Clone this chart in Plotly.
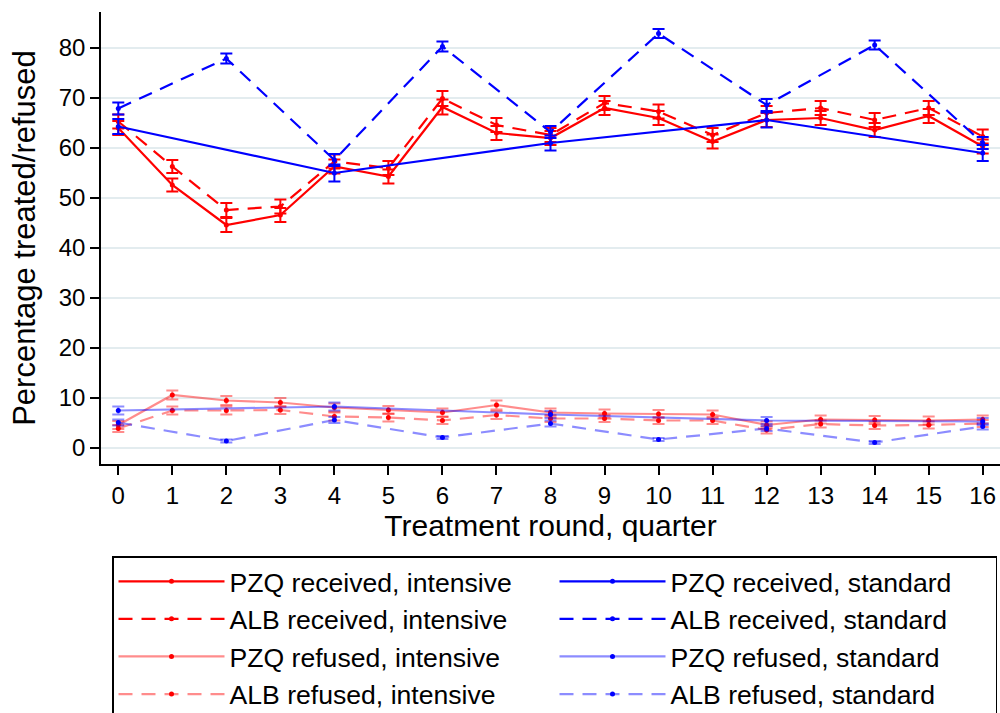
import plotly.graph_objects as go

rounds_all = list(range(17))
rounds_even = list(range(0, 17, 2))
rounds_annual = list(range(0, 17, 4))

pzq_rec_int = [64.0, 52.6, 44.6, 46.6, 56.3, 54.3, 68.2, 63.0, 62.0, 68.0, 66.0, 61.3, 65.6, 66.0, 63.6, 66.4, 60.3]
pzq_rec_int_err = [1.4, 1.3, 1.4, 1.4, 1.4, 1.4, 1.5, 1.4, 1.4, 1.4, 1.4, 1.4, 1.4, 1.4, 1.4, 1.4, 1.4]
alb_rec_int = [65.3, 56.3, 47.6, 48.3, 57.3, 56.0, 69.9, 64.6, 62.6, 69.0, 67.3, 62.6, 67.0, 68.0, 65.6, 68.0, 62.3]
alb_rec_int_err = [1.4, 1.3, 1.4, 1.4, 1.4, 1.4, 1.5, 1.4, 1.4, 1.4, 1.4, 1.4, 1.4, 1.4, 1.4, 1.4, 1.4]
pzq_rec_std = [64.3, 55.0, 61.0, 65.6, 59.0]
pzq_rec_std_err = [1.5, 1.7, 1.5, 1.5, 1.6]
alb_rec_std = [67.9, 77.9, 57.6, 80.3, 63.2, 82.9, 68.6, 80.6, 61.0]
alb_rec_std_err = [1.2, 1.0, 1.2, 1.0, 1.2, 0.9, 1.2, 0.9, 1.2]

pzq_ref_int = [4.6, 10.6, 9.5, 9.1, 8.1, 7.6, 7.1, 8.6, 7.1, 6.9, 6.8, 6.7, 4.6, 5.7, 5.6, 5.5, 5.7]
pzq_ref_int_err = [0.8, 0.9, 0.9, 0.9, 0.8, 0.8, 0.8, 0.9, 0.8, 0.8, 0.8, 0.8, 0.7, 0.8, 0.8, 0.8, 0.8]
alb_ref_int = [3.9, 7.5, 7.5, 7.6, 6.3, 6.1, 5.5, 6.6, 5.9, 5.9, 5.5, 5.5, 3.6, 4.8, 4.5, 4.6, 4.9]
alb_ref_int_err = [0.7, 0.8, 0.8, 0.8, 0.8, 0.8, 0.7, 0.8, 0.7, 0.7, 0.7, 0.7, 0.7, 0.7, 0.7, 0.7, 0.7]
pzq_ref_std = [7.5, 8.3, 6.7, 5.5, 5.3]
pzq_ref_std_err = [0.8, 0.8, 0.7, 0.7, 0.7]
alb_ref_std = [5.1, 1.4, 5.6, 2.1, 4.9, 1.7, 3.9, 1.1, 4.3]
alb_ref_std_err = [0.6, 0.3, 0.6, 0.3, 0.6, 0.3, 0.5, 0.3, 0.6]

y_ticks = [0, 10, 20, 30, 40, 50, 60, 70, 80]

RED = "#ff0000"
BLUE = "#0000ff"
LRED = "rgba(255,0,0,0.45)"
LBLUE = "rgba(0,0,255,0.45)"
DASH = "14px,9px"

series = [
    # name, x, y, err, line color, marker color, dash, legendrank
    ("PZQ refused, intensive", rounds_all, pzq_ref_int, pzq_ref_int_err, LRED, RED, "solid", 5),
    ("ALB refused, intensive", rounds_all, alb_ref_int, alb_ref_int_err, LRED, RED, DASH, 7),
    ("PZQ refused, standard", rounds_annual, pzq_ref_std, pzq_ref_std_err, LBLUE, BLUE, "solid", 6),
    ("ALB refused, standard", rounds_even, alb_ref_std, alb_ref_std_err, LBLUE, BLUE, DASH, 8),
    ("PZQ received, intensive", rounds_all, pzq_rec_int, pzq_rec_int_err, RED, RED, "solid", 1),
    ("ALB received, intensive", rounds_all, alb_rec_int, alb_rec_int_err, RED, RED, DASH, 3),
    ("PZQ received, standard", rounds_annual, pzq_rec_std, pzq_rec_std_err, BLUE, BLUE, "solid", 2),
    ("ALB received, standard", rounds_even, alb_rec_std, alb_rec_std_err, BLUE, BLUE, DASH, 4),
]

fig = go.Figure()
for name, xs, ys, es, lc, mc, dash, rank in series:
    fig.add_trace(go.Scatter(
        x=xs, y=ys, name=name, mode="lines+markers",
        line=dict(color=lc, width=2.2, dash=dash),
        marker=dict(color=mc, size=5),
        error_y=dict(type="data", array=es, visible=True, color=lc, thickness=2, width=6),
        legendrank=rank,
    ))

FONT = "Liberation Sans, Arial, sans-serif"
fig.update_layout(
    width=1000, height=713,
    margin=dict(l=101, r=0, t=12, b=249),
    plot_bgcolor="white", paper_bgcolor="white",
    font=dict(family=FONT, color="black", size=24),
    showlegend=True,
    legend=dict(
        orientation="h", xref="container", yref="container",
        x=0.112, y=1 - 556 / 713, xanchor="left", yanchor="top",
        bordercolor="black", borderwidth=1.5, bgcolor="white",
        font=dict(size=26.6, family=FONT), itemwidth=106,
        entrywidth=320, tracegroupgap=0, traceorder="normal",
    ),
)
fig.update_xaxes(
    range=[-0.32, 16.32], tickmode="array", tickvals=rounds_all,
    ticktext=[str(v) for v in rounds_all],
    showline=True, linecolor="black", linewidth=1.5,
    ticks="outside", ticklen=9, tickwidth=1.5, tickcolor="black",
    showgrid=False, zeroline=False,
    tickfont=dict(size=24),
    title=dict(text="Treatment round, quarter", font=dict(size=30), standoff=3),
)
fig.update_yaxes(
    range=[-3.2, 87.2], tickmode="array", tickvals=y_ticks,
    showline=True, linecolor="black", linewidth=1.5,
    ticks="outside", ticklen=9, tickwidth=1.5, tickcolor="black",
    showgrid=True, gridcolor="#e3ecef", gridwidth=1.5, zeroline=False,
    tickfont=dict(size=24),
    title=dict(text="Percentage treated/refused", font=dict(size=31), standoff=14),
)

fig.write_html("out.html")
